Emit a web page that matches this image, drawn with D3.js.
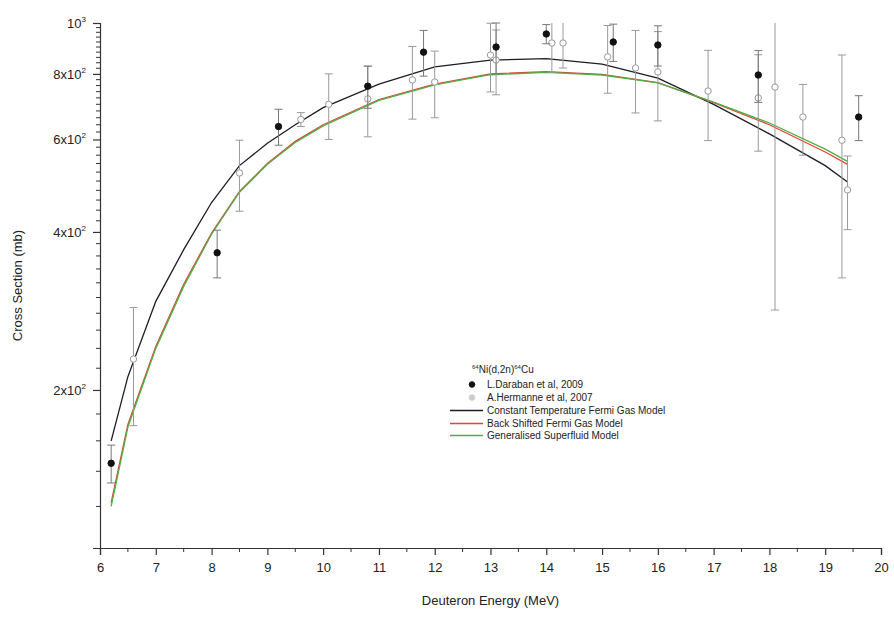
<!DOCTYPE html>
<html>
<head>
<meta charset="utf-8">
<script src="https://cdn.jsdelivr.net/npm/d3@7"></script>
<style>
  body { margin: 0; background: #fff; }
  text { font-family: "Liberation Sans", Arial, sans-serif; fill: #222; }
</style>
</head>
<body>
<div id="chart"></div>
<script>
// model curves
var modelEnergy = [6.2, 6.5, 7, 7.5, 8, 8.5, 9, 9.5, 10, 11, 12, 13, 14, 15, 16, 17, 18, 19, 19.4];
var ctfgm = [160, 212, 295, 370, 455, 535, 590, 640, 690, 765, 825, 850, 855, 835, 785, 700, 615, 535, 498];
var bsfgm = [122, 172, 242, 318, 398, 478, 540, 595, 640, 715, 765, 800, 808, 798, 770, 705, 640, 568, 538];
var gsm = [120, 170, 240, 315, 396, 476, 538, 592, 637, 712, 762, 797, 805, 796, 769, 707, 645, 575, 545];

// L.Daraban et al, 2009
var darabanE = [6.2, 8.1, 9.2, 10.8, 11.8, 13.1, 14.0, 15.2, 16.0, 17.8, 19.6];
var darabanV = [145, 365, 635, 758, 880, 900, 953, 920, 908, 796, 662];
var darabanErr = [12, 38, 50, 70, 88, 100, 40, 75, 80, 90, 65];

// A.Hermanne et al, 2007
var hermanneE = [6.6, 8.5, 9.6, 10.1, 10.8, 11.6, 12.0, 13.0, 13.1, 14.1, 14.3, 15.1, 15.6, 16.0, 16.9, 17.8, 18.1, 18.6, 19.3, 19.4];
var hermanneV = [229, 518, 655, 700, 717, 779, 772, 869, 850, 916, 916, 862, 821, 807, 742, 720, 755, 662, 598, 481];
var hermanneErr = [58, 80, 20, 100, 110, 123, 112, 130, 120, 110, 95, 127, 147, 156, 145, 150, 471, 102, 271, 77];

var xTicks = [6, 7, 8, 9, 10, 11, 12, 13, 14, 15, 16, 17, 18, 19, 20];
var yTicks = [200, 400, 600, 800, 1000];
var yTickLabels = [["2x10", "2"], ["4x10", "2"], ["6x10", "2"], ["8x10", "2"], ["10", "3"]];

var legendTitle = [["64", "sup"], ["Ni(d,2n)", ""], ["64", "sup"], ["Cu", ""]];
var seriesNames = ["L.Daraban et al, 2009", "A.Hermanne et al, 2007",
  "Constant Temperature Fermi Gas Model", "Back Shifted Fermi Gas Model", "Generalised Superfluid Model"];
var lineColours = ["#1c1c2a", "#e8423a", "#4cb043"];

var width = 894, height = 617,
    margin = {top: 23, right: 13, bottom: 69, left: 100};

var svg = d3.select("#chart").append("svg")
  .attr("width", width)
  .attr("height", height);

var x = d3.scaleLinear().domain([6, 20]).range([margin.left, width - margin.right]);
var y = d3.scaleLog().domain([100, 1000]).range([height - margin.bottom, margin.top]);

// axes
var xAxis = d3.axisBottom(x).tickValues(xTicks).tickSize(7).tickFormat(d3.format("d"));
var gx = svg.append("g")
  .attr("transform", "translate(0," + y(100) + ")")
  .call(xAxis);
gx.selectAll(".tick text").attr("font-size", 13).attr("dy", "1.05em").attr("fill", "#222")
  .style("font-family", "Liberation Sans, Arial, sans-serif");
var xMinor = d3.range(6.5, 20, 1);
gx.selectAll(".minor").data(xMinor).enter().append("line")
  .attr("x1", function(d) { return x(d); })
  .attr("x2", function(d) { return x(d); })
  .attr("y1", 0).attr("y2", 4)
  .attr("stroke", "#333");

var yAxis = d3.axisLeft(y).tickValues(yTicks).tickSize(7).tickFormat("");
var gy = svg.append("g")
  .attr("transform", "translate(" + x(6) + ",0)")
  .call(yAxis);
var yMinor = d3.range(120, 1000, 20).filter(function(d) { return d % 200 != 0; });
gy.selectAll(".minor").data(yMinor).enter().append("line")
  .attr("x1", -4).attr("x2", 0)
  .attr("y1", function(d) { return y(d); })
  .attr("y2", function(d) { return y(d); })
  .attr("stroke", "#333");
svg.selectAll("path.domain, .tick line").attr("stroke", "#333").attr("stroke-width", 1.2);

var yLab = svg.append("g").selectAll("text")
  .data(yTicks).enter().append("text")
  .attr("x", x(6) - 14)
  .attr("y", function(d) { return y(d) + 5; })
  .attr("text-anchor", "end")
  .attr("font-size", 13);
yLab.append("tspan").text(function(d, i) { return yTickLabels[i][0]; });
yLab.append("tspan").attr("font-size", 8).attr("dy", -6)
  .text(function(d, i) { return yTickLabels[i][1]; });

svg.append("text")
  .attr("x", (x(6) + x(20)) / 2)
  .attr("y", height - 12)
  .attr("text-anchor", "middle")
  .attr("font-size", 13)
  .text("Deuteron Energy (MeV)");

svg.append("text")
  .attr("transform", "translate(22," + ((y(100) + y(1000)) / 2) + ") rotate(-90)")
  .attr("text-anchor", "middle")
  .attr("font-size", 13)
  .text("Cross Section (mb)");

// model lines
var line = d3.line()
  .x(function(d, i) { return x(modelEnergy[i]); })
  .y(function(d) { return y(d); });

[ctfgm, bsfgm, gsm].forEach(function(series, k) {
  svg.append("path")
    .attr("d", line(series))
    .attr("fill", "none")
    .attr("stroke", lineColours[k])
    .attr("stroke-width", 1.3);
});

// error bars + points (clipped at the frame)
function drawSet(E, V, Err, filled) {
  var g = svg.append("g");
  var c = filled ? "#777" : "#999";
  E.forEach(function(e, i) {
    var lo = V[i] - Err[i], hi = V[i] + Err[i];
    var top = Math.min(hi, 1000), bot = Math.max(lo, 100);
    g.append("line")
      .attr("x1", x(e)).attr("x2", x(e))
      .attr("y1", y(bot)).attr("y2", y(top))
      .attr("stroke", c);
    [lo, hi].filter(function(v) { return v >= 100 && v <= 1000; }).forEach(function(v) {
      g.append("line")
        .attr("x1", x(e) - 4).attr("x2", x(e) + 4)
        .attr("y1", y(v)).attr("y2", y(v))
        .attr("stroke", c);
    });
    g.append("circle")
      .attr("cx", x(e)).attr("cy", y(V[i]))
      .attr("r", 3.2)
      .attr("fill", filled ? "#111" : "#fff")
      .attr("stroke", filled ? "#111" : "#999");
  });
}
drawSet(hermanneE, hermanneV, hermanneErr, false);
drawSet(darabanE, darabanV, darabanErr, true);

// legend
var lg = svg.append("g").attr("transform", "translate(450,373)");
var tt = lg.append("text").attr("x", 22).attr("y", 0).attr("font-size", 10);
legendTitle.forEach(function(p) {
  var s = tt.append("tspan").text(p[0]);
  if (p[1] == "sup") s.attr("font-size", 6).attr("dy", -4);
  else s.attr("dy", 4);
});
var rowY = [15, 28, 41, 54, 66];
seriesNames.forEach(function(name, i) {
  if (i < 2) {
    lg.append("circle").attr("cx", 22).attr("cy", rowY[i] - 3.5).attr("r", 2.8)
      .attr("fill", i == 0 ? "#111" : "#ccc").attr("stroke", i == 0 ? "#111" : "#ccc");
  } else {
    lg.append("line").attr("x1", 0).attr("x2", 33)
      .attr("y1", rowY[i] - 3.5).attr("y2", rowY[i] - 3.5)
      .attr("stroke", lineColours[i - 2]).attr("stroke-width", 1.5);
  }
  lg.append("text").attr("x", 37).attr("y", rowY[i]).attr("font-size", 10).text(name);
});
</script>
</body>
</html>
